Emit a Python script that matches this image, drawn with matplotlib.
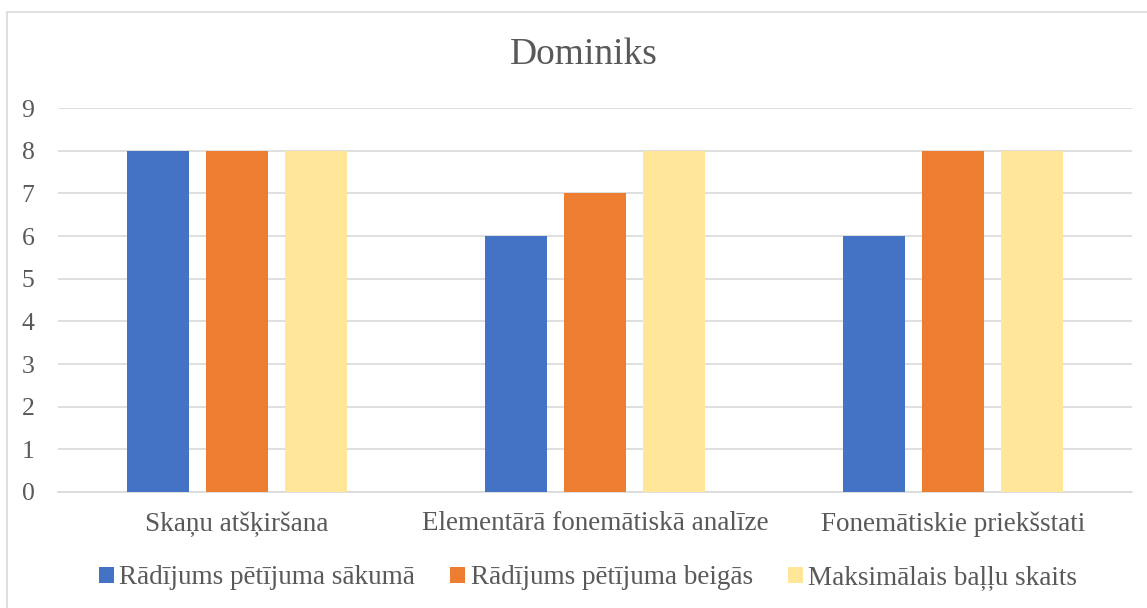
import matplotlib.pyplot as plt
import numpy as np
from matplotlib.patches import Rectangle

plt.rcParams['font.family'] = ['Liberation Serif', 'DejaVu Serif']

## data
categories = ["Skaņu atšķiršana", "Elementārā fonemātiskā analīze", "Fonemātiskie priekšstati"]
series_names = ["Rādījums pētījuma sākumā", "Rādījums pētījuma beigās", "Maksimālais baļļu skaits"]
sakuma = [8, 6, 6]
beigas = [8, 7, 8]
maks = [8, 8, 8]
colors = ['#4472C4', '#ED7D31', '#FFE699']

txt = '#595959'
grid = '#D9D9D9'

fig = plt.figure(figsize=(11.47, 6.08), dpi=100)
ax = fig.add_axes([58/1147, 1-492/608, (1132-58)/1147, (492-108)/608])

# chart border
fig.patches.append(Rectangle((7.5/1147, -0.05), 1.2, 1-12/608+0.05, transform=fig.transFigure,
                             fill=False, edgecolor=grid, linewidth=1.2))

x = np.arange(len(categories))
w = 0.173
off = 0.22
for i, vals in enumerate([sakuma, beigas, maks]):
    ax.bar(x + (i-1)*off, vals, w, color=colors[i], label=series_names[i], zorder=3)

ax.set_xlim(-0.5, 2.5)
ax.set_ylim(0, 9)
ax.set_yticks(range(10))
ax.yaxis.grid(True, color=grid, linewidth=1.2, zorder=0)
for s in ['top', 'right', 'left']:
    ax.spines[s].set_visible(False)
ax.spines['bottom'].set_color(grid)
ax.spines['bottom'].set_linewidth(1.2)
ax.set_xticks(x)
ax.set_xticklabels(categories)
ax.tick_params(axis='both', length=0, colors=txt)
ax.tick_params(axis='y', pad=17, labelsize=18.5)
ax.tick_params(axis='x', pad=14, labelsize=19.5)

fig.text(584/1147, 1-55/608, "Dominiks", ha='center', va='center', fontsize=27, color=txt)

leg = fig.legend(loc='center', bbox_to_anchor=(588/1147, 1-578/608), ncol=3, frameon=False,
                 prop={'family': ['Liberation Serif'], 'size': 19.5},
                 handlelength=0.55, handleheight=0.55, handletextpad=0.2,
                 columnspacing=1.3, labelcolor=txt)

fig.savefig('out.png', dpi=100, facecolor='white')
